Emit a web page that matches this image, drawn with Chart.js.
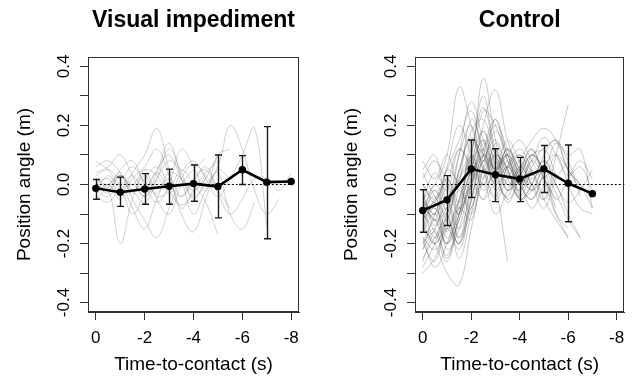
<!DOCTYPE html>
<html><head><meta charset="utf-8">
<script src="https://cdn.jsdelivr.net/npm/chart.js@4"></script>
<style>
html,body{margin:0;padding:0;background:#fff;width:633px;height:386px;overflow:hidden}
#p1{position:absolute;left:0;top:0}
#p2{position:absolute;left:327px;top:0}
</style></head><body>
<canvas id="p1" width="316" height="386"></canvas>
<canvas id="p2" width="306" height="386"></canvas>
<script>
// ---------- data ----------
const panelTitles = ['Visual impediment', 'Control'];
const xTickValues = [0, -2, -4, -6, -8];
const xTickLabels = ['0', '-2', '-4', '-6', '-8'];
const yTickValues = [-0.4, -0.3, -0.2, -0.1, 0, 0.1, 0.2, 0.3, 0.4];
const yTickLabels = ['-0.4', '', '-0.2', '', '0.0', '', '0.2', '', '0.4'];

// sampling times of individual trials (s)
const trialTimes = [0, -0.5, -1, -1.5, -2, -2.5, -3, -3.5, -4, -4.5, -5, -5.5, -6, -6.5, -7, -7.5, -8];

const visualTrials = [
  [0.03, 0.05, 0.02, 0.06, 0.01, -0.03, 0.04, 0.02, -0.02, 0.03],
  [-0.02, -0.04, 0.0, -0.08, -0.15, -0.05, 0.02, -0.04, 0.01, 0.06, -0.02],
  [0.0, 0.02, -0.03, 0.04, 0.1, 0.19, 0.05, -0.08, -0.02, 0.04, 0.08],
  [-0.05, -0.02, -0.2, -0.05, 0.03, -0.04, -0.02, 0.05, 0.0, -0.06, -0.17],
  [0.01, -0.03, 0.03, -0.02, -0.06, 0.02, 0.12, 0.04, -0.05, 0.02, 0.1],
  [-0.03, 0.0, -0.05, 0.02, 0.06, 0.12, 0.03, -0.1, -0.16, -0.05, 0.05, 0.02],
  [0.02, 0.0, 0.04, -0.05, -0.12, -0.18, -0.08, 0.02, 0.07, 0.03, -0.02, -0.08],
  [0.08, 0.05, 0.0, 0.03, -0.02, 0.05, 0.1, 0.02, -0.04, 0.0, 0.06, 0.2, 0.12, -0.02, -0.1, -0.05],
  [0.0, -0.02, 0.03, 0.0, 0.05, 0.03, -0.03, 0.04, 0.08, 0.02, -0.04, 0.02, 0.1, 0.19, -0.14],
  [-0.02, 0.0, 0.03, -0.02, 0.02, 0.06, 0.0, -0.04, 0.02, 0.05, -0.03, -0.1, -0.05, 0.02, 0.02, -0.02, 0.04],
  [0.04, 0.06, 0.1, 0.03, -0.04, 0.02, 0.08, 0.05],
  [-0.04, -0.06, -0.02, -0.1, -0.03, 0.04, -0.02, -0.07, -0.03, 0.02],
  [0.02, -0.01, 0.05, 0.08, 0.0, -0.06, 0.0, 0.12, 0.06, -0.02, 0.1, 0.12],
  [-0.03, 0.03, -0.01, 0.0, -0.04, 0.04, 0.14, 0.02, -0.1, -0.02, 0.04, -0.1, -0.15, -0.06],
  [0.06, 0.08, 0.04, -0.03, 0.05, -0.05, -0.1, 0.0, 0.05, 0.09]
];

const controlTrials = [
  [-0.28, -0.2, -0.1, -0.25, -0.1, 0.05, 0.0, -0.05],
  [-0.1, -0.05, 0.05, 0.15, 0.25, 0.1, 0.02, 0.08, 0.0, -0.05, 0.04],
  [0.05, 0.1, -0.05, 0.02, 0.1, 0.36, 0.15, 0.0, 0.05, 0.12, 0.02, -0.05],
  [-0.15, -0.2, -0.3, -0.34, -0.15, 0.02, 0.1, 0.04, -0.02, 0.05],
  [-0.05, 0.0, 0.1, 0.33, 0.2, 0.05, -0.05, 0.02, 0.08, 0.0, -0.08, 0.02, 0.08],
  [-0.2, -0.15, -0.25, -0.1, 0.05, 0.15, 0.08, -0.02, 0.03, 0.1, 0.05, -0.05, 0.02, 0.08, 0.02],
  [-0.12, -0.08, -0.15, -0.05, 0.1, 0.3, 0.12, 0.05, -0.05, 0.0, 0.1, 0.15, 0.05, 0.0, -0.08],
  [0.0, -0.05, 0.02, -0.08, 0.0, 0.12, 0.05, 0.1, -0.05, -0.02, 0.05, 0.0, -0.1, -0.18],
  [-0.08, -0.12, -0.2, -0.08, 0.05, 0.15, 0.0, -0.26],
  [-0.1, 0.0, -0.05, 0.1, 0.2, 0.05, 0.12, 0.02, 0.08, 0.15, 0.19, 0.15, 0.05, 0.0, -0.05],
  [-0.25, -0.18, -0.12, -0.2, -0.05, 0.08, 0.02, -0.04, 0.06, 0.0, -0.05, 0.1, 0.27],
  [-0.15, -0.08, -0.18, -0.1, 0.02, 0.1, 0.04, 0.12, 0.05, -0.02, 0.06, 0.1, 0.0, -0.08, -0.1],
  [-0.05, -0.12, -0.08, 0.05, 0.18, 0.22, 0.1, 0.02, -0.04, 0.05],
  [-0.18, -0.22, -0.15, -0.05, 0.1, 0.0, 0.05, 0.15, 0.08, 0.02, 0.05, -0.03, -0.12, -0.18],
  [0.02, 0.08, 0.0, -0.1, 0.05, 0.25, 0.2, 0.08, 0.0, 0.06, 0.12, 0.03],
  [-0.22, -0.12, -0.2, -0.12, 0.0, -0.05, 0.08, 0.0, 0.05, 0.12, 0.02, -0.1, -0.15],
  [-0.12, -0.2, -0.1, 0.1, 0.28, 0.15, 0.05, -0.05, 0.02, 0.1, 0.05],
  [-0.05, -0.1, 0.05, 0.0, -0.08, 0.1, 0.2, 0.12, 0.02, 0.08, 0.16, 0.1, 0.03, 0.06, -0.02],
  [-0.3, -0.25, -0.15, -0.22, -0.08, 0.0, -0.1, -0.02, 0.05, -0.02],
  [-0.08, -0.02, -0.12, 0.05, 0.15, 0.08, 0.22, 0.1, 0.0, 0.04, -0.05, -0.12, -0.18],
  [0.08, 0.02, 0.1, 0.0, 0.08, -0.02, 0.05, 0.1, 0.04],
  [-0.14, -0.06, -0.22, -0.15, 0.02, 0.12, -0.02, 0.06, 0.1, 0.03, 0.08, 0.0, -0.06, -0.02, 0.05],
  [-0.04, -0.1, -0.05, -0.15, 0.0, 0.2, 0.32, 0.15, 0.05, -0.02, 0.03],
  [-0.2, -0.1, 0.0, 0.12, 0.05, -0.05, 0.02, 0.1, 0.0],
  [-0.1, -0.16, -0.26, -0.12, 0.0, 0.08, 0.15, 0.05, -0.02, 0.1, 0.12, 0.15, 0.1, 0.12, -0.08],
  [0.0, -0.06, 0.06, 0.2, 0.1, 0.0, 0.1, 0.05, -0.05, 0.0, 0.08, 0.02],
  [-0.18, -0.28, -0.2, -0.08, -0.12, 0.05, 0.1, -0.02, 0.06, 0.0],
  [-0.06, 0.04, -0.02, 0.12, 0.08, 0.18, 0.05, 0.1, 0.15, 0.08, 0.02, 0.1, 0.05, -0.02],
  [-0.12, -0.06, 0.0, -0.1, 0.15, 0.1, 0.02, 0.06, 0.0, -0.05, 0.02, -0.1, -0.18],
  [-0.26, -0.15, -0.08, -0.18, -0.05, 0.1, 0.05, 0.12, 0.02, -0.08, 0.0],
  [-0.16, -0.1, -0.2, -0.06, 0.08, 0.18, 0.06],
  [-0.02, -0.14, -0.06, -0.18, 0.0, 0.12, 0.22, 0.08, 0.02],
  [-0.2, -0.26, -0.14, -0.2, -0.02, 0.14, 0.05, 0.12, 0.03, 0.0],
  [-0.1, -0.04, -0.16, 0.0, 0.22, 0.12, 0.0, 0.06, -0.04],
  [-0.14, -0.2, -0.12, -0.02, -0.1, 0.06, 0.18, 0.1, 0.0, 0.08, 0.02, -0.08],
  [-0.06, -0.12, 0.02, -0.06, 0.1, 0.02, 0.14, 0.06, 0.1, 0.04],
  [-0.22, -0.16, -0.24, -0.1, 0.04, 0.0, 0.1, 0.03],
  [-0.08, -0.18, -0.1, 0.02, 0.12, 0.26, 0.1, -0.02, 0.04, 0.1, 0.06, 0.14, 0.08, -0.04],
  [-0.12, -0.02, -0.1, -0.2, -0.06, 0.1, 0.04, -0.06, 0.02],
  [0.04, -0.04, -0.1, 0.04, 0.16, 0.06, -0.04, 0.06, 0.12, 0.05, -0.05, 0.04]
];

const visualMeanTimes = [0, -1, -2, -3, -4, -5, -6, -7, -8];
const visualMean  = [-0.013, -0.026, -0.015, -0.006, 0.003, -0.007, 0.05, 0.008, 0.01];
const visualUpper = [0.017, 0.025, 0.037, 0.052, 0.066, 0.1, 0.098, 0.196, null];
const visualLower = [-0.05, -0.074, -0.067, -0.067, -0.057, -0.113, 0.0, -0.184, null];

const controlMeanTimes = [0, -1, -2, -3, -4, -5, -6, -7];
const controlMean  = [-0.088, -0.052, 0.053, 0.033, 0.019, 0.053, 0.004, -0.031];
const controlUpper = [-0.018, 0.03, 0.151, 0.121, 0.092, 0.132, 0.134, null];
const controlLower = [-0.162, -0.139, -0.044, -0.058, -0.058, -0.027, -0.126, null];

const visualRefLine = [0, -8];
const controlRefLine = [0, -8.4];

// ---------- chart ----------
Chart.defaults.font.family = '"Liberation Sans", Arial, Helvetica, sans-serif';
Chart.defaults.color = '#000';

function makeChart(id, title, trials, mTimes, mean, upper, lower, refX, padRight, traceColor) {
  const datasets = [
    { data: mTimes.map((t, i) => ({ x: t, y: mean[i] })), borderColor: '#000', backgroundColor: '#000',
      borderWidth: 2.6, pointRadius: 3.7, pointBorderWidth: 0, pointBackgroundColor: '#000', tension: 0, order: 0 },
    { data: refX.map(t => ({ x: t, y: 0 })), borderColor: '#000', borderWidth: 1, borderDash: [2, 2],
      pointRadius: 0, order: 1 }
  ];
  trials.forEach(tr => datasets.push({
    data: tr.map((v, i) => ({ x: trialTimes[i], y: v })), borderColor: traceColor, borderWidth: 1,
    pointRadius: 0, tension: 0.4, order: 2
  }));

  const errorBars = {
    id: 'errorBars',
    beforeDatasetDraw(chart, args) {
      if (args.index !== 0) return;
      const { ctx, scales: { x, y } } = chart;
      ctx.save();
      ctx.strokeStyle = '#1a1a1a';
      ctx.lineWidth = 1.4;
      mTimes.forEach((t, i) => {
        if (upper[i] == null) return;
        const px = Math.round(x.getPixelForValue(t)) + 0.5;
        const y1 = y.getPixelForValue(upper[i]);
        const y2 = y.getPixelForValue(lower[i]);
        ctx.beginPath();
        ctx.moveTo(px, y1); ctx.lineTo(px, y2);
        ctx.moveTo(px - 3.5, y1); ctx.lineTo(px + 3.5, y1);
        ctx.moveTo(px - 3.5, y2); ctx.lineTo(px + 3.5, y2);
        ctx.stroke();
      });
      ctx.restore();
    }
  };
  const box = {
    id: 'box',
    afterDatasetsDraw(chart) {
      const { ctx, chartArea: a } = chart;
      ctx.save();
      ctx.strokeStyle = '#333';
      ctx.lineWidth = 1;
      ctx.strokeRect(Math.round(a.left) + 0.5, Math.round(a.top) + 0.5,
                     Math.round(a.right - a.left) - 1, Math.round(a.bottom - a.top) - 1);
      ctx.restore();
    }
  };

  return new Chart(document.getElementById(id), {
    type: 'line',
    data: { datasets },
    plugins: [errorBars, box],
    options: {
      responsive: false,
      animation: false,
      layout: { padding: { left: 0, right: padRight, top: 0, bottom: 0 } },
      plugins: {
        legend: { display: false },
        tooltip: { enabled: false },
        title: { display: true, text: title, fullSize: false, color: '#000',
                 font: { size: 23, weight: 'bold' }, padding: { top: 7, bottom: 22.4 } }
      },
      scales: {
        x: {
          type: 'linear', reverse: true, min: -8.32, max: 0.32,
          afterBuildTicks: s => { s.ticks = xTickValues.map(v => ({ value: v })); },
          afterFit: s => { s.height = 74; },
          ticks: { autoSkip: false, maxRotation: 0, padding: 8.5, font: { size: 17 }, color: '#000',
                   callback: (v) => xTickLabels[xTickValues.indexOf(v)] },
          grid: { drawOnChartArea: false, drawTicks: true, tickLength: 8, tickColor: '#333', color: '#333' },
          border: { display: true, color: '#333' },
          title: { display: true, text: 'Time-to-contact (s)', font: { size: 19 }, color: '#000',
                   padding: { top: 0, bottom: 10 } }
        },
        y: {
          type: 'linear', min: -0.432, max: 0.432,
          afterBuildTicks: s => { s.ticks = yTickValues.map(v => ({ value: v })); },
          afterFit: s => { s.width = 88; },
          ticks: { autoSkip: false, minRotation: 90, maxRotation: 90, crossAlign: 'center', padding: 0.6,
                   font: { size: 17 }, color: '#000',
                   callback: (v) => { const k = yTickValues.findIndex(t => Math.abs(t - v) < 1e-9); return k < 0 ? '' : yTickLabels[k]; } },
          grid: { drawOnChartArea: false, drawTicks: true, tickLength: 8, tickColor: '#333', color: '#333' },
          border: { display: true, color: '#333' },
          title: { display: true, text: 'Position angle (m)', font: { size: 19 }, color: '#000',
                   padding: { top: 13.6, bottom: 0 } }
        }
      }
    }
  });
}

makeChart('p1', panelTitles[0], visualTrials, visualMeanTimes, visualMean, visualUpper, visualLower, visualRefLine, 17, 'rgba(95,95,95,0.28)');
makeChart('p2', panelTitles[1], controlTrials, controlMeanTimes, controlMean, controlUpper, controlLower, controlRefLine, 8, 'rgba(80,80,80,0.3)');
</script>
</body></html>
